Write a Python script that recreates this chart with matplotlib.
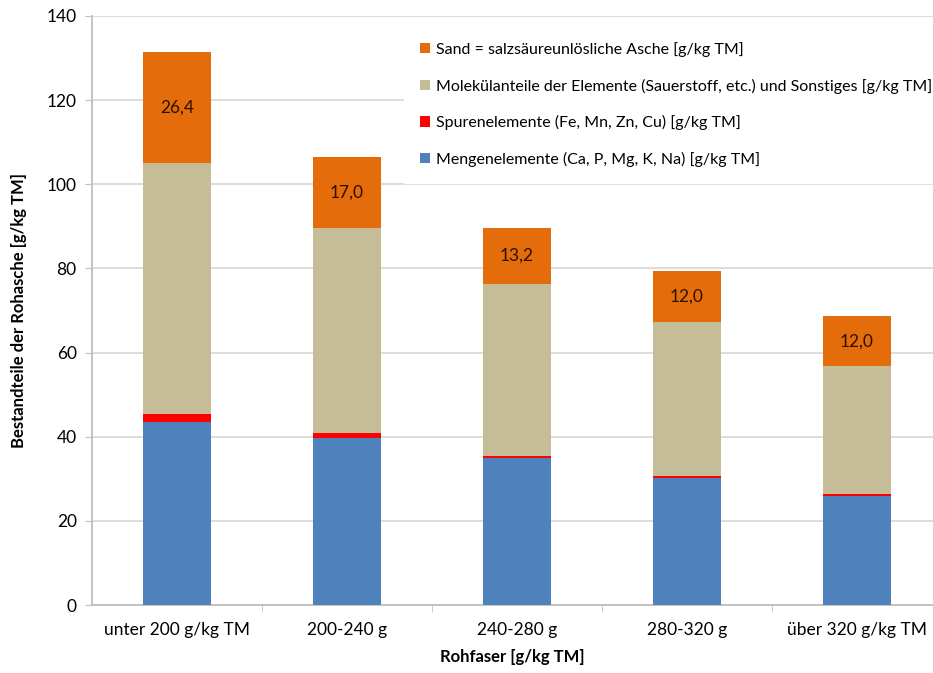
import matplotlib.pyplot as plt
import numpy as np

plt.rcParams['font.family'] = ['Lato', 'DejaVu Sans']

# categories on the x axis
kategorien = ["unter 200 g/kg TM", "200-240 g", "240-280 g", "280-320 g", "über 320 g/kg TM"]

# stacked parts [g/kg TM], bottom to top
mengen = [43.6, 39.8, 34.9, 30.1, 25.9]
spuren = [1.8, 1.0, 0.6, 0.6, 0.6]
molekuel = [59.7, 48.7, 40.9, 36.6, 30.2]
sand = [26.4, 17.0, 13.2, 12.0, 12.0]
sand_labels = ["26,4", "17,0", "13,2", "12,0", "12,0"]

namen = [
    "Mengenelemente (Ca, P, Mg, K, Na) [g/kg TM]",
    "Spurenelemente (Fe, Mn, Zn, Cu) [g/kg TM]",
    "Molekülanteile der Elemente (Sauerstoff, etc.) und Sonstiges [g/kg TM]",
    "Sand = salzsäureunlösliche Asche [g/kg TM]",
]
farben = ["#4F81BD", "#FF0000", "#C4BD97", "#E46C0A"]

fig = plt.figure(figsize=(9.33, 6.73), dpi=100)
ax = fig.add_axes([92 / 933, 1 - 605 / 673, 841 / 933, 589 / 673])

x = np.arange(len(kategorien))
unten = np.zeros(len(kategorien))
balken = []
for werte, name, farbe in zip([mengen, spuren, molekuel, sand], namen, farben):
    b = ax.bar(x, werte, width=0.4, bottom=unten, color=farbe, label=name, zorder=3)
    balken.append(b)
    unten = unten + np.array(werte)

# value labels in the sand part
ax.bar_label(balken[-1], labels=sand_labels, label_type='center', fontsize=12.5, color='#2b1200')

ax.set_xlim(-0.5, 4.45)
ax.set_ylim(0, 140)
ax.set_yticks(range(0, 141, 20))
ax.set_xticks(x)
ax.set_xticklabels(kategorien, fontsize=12.5)
ax.tick_params(axis='y', labelsize=12.5, length=5, color='#BFBFBF', pad=6)
ax.tick_params(axis='x', length=0, pad=12)
# small tick marks between the categories
ax.set_xticks(np.arange(0.5, 4.5, 1), minor=True)
ax.tick_params(axis='x', which='minor', length=5, color='#BFBFBF')

ax.grid(axis='y', color='#D9D9D9', linewidth=1.3, zorder=0)
ax.set_axisbelow(True)
for s in ['top', 'right']:
    ax.spines[s].set_visible(False)
for s in ['left', 'bottom']:
    ax.spines[s].set_color('#BFBFBF')
    ax.spines[s].set_linewidth(1.3)

ax.set_ylabel("Bestandteile der Rohasche [g/kg TM]", fontsize=12, fontweight='bold', labelpad=14)
ax.set_xlabel("Rohfaser [g/kg TM]", fontsize=12, fontweight='bold', labelpad=8)

handles, labels = ax.get_legend_handles_labels()
leg = ax.legend(handles[::-1], labels[::-1], loc='upper left',
                bbox_to_anchor=(404 / 933, 1 - 26 / 673), bbox_transform=fig.transFigure,
                fontsize=11.5, frameon=True, fancybox=False, borderaxespad=0,
                handlelength=0.6, handleheight=0.6, handletextpad=0.4,
                labelspacing=1.35, borderpad=1.0)
leg.get_frame().set_facecolor('white')
leg.get_frame().set_edgecolor('white')
leg.get_frame().set_alpha(1)
leg.set_zorder(5)

fig.savefig("out.png", dpi=100)
